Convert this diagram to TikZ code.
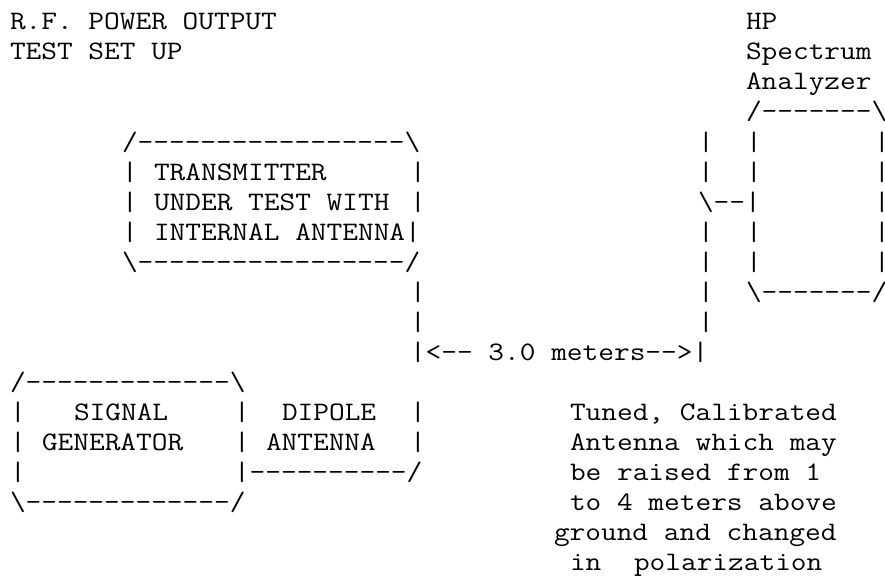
\documentclass[tikz,border=0pt]{standalone}
\usepackage{fontspec}
\usepackage{graphicx}
\newcommand{\seg}[4]{\node[txt] (#1) at ({10pt+16pt*#2}, {-30pt*#3}) {\scalebox{1.14286}[1]{#4}};}
\newcommand{\bs}{\textbackslash}
\begin{document}
\begin{tikzpicture}[x=1pt,y=1pt,
  txt/.style={anchor=base west, inner sep=0pt, outer sep=0pt, text=black,
    font=\fontsize{26.67pt}{30pt}\ttfamily}]
\fill[white] (0,0) rectangle (885,-575);
\useasboundingbox (0,0) rectangle (885,-575);
% row 1-4
\seg{t1}{0}{1}{R.F. POWER OUTPUT}
\seg{hp}{46}{1}{HP}
\seg{t2}{0}{2}{TEST SET UP}
\seg{spec}{46}{2}{Spectrum}
\seg{anal}{46}{3}{Analyzer}
\seg{satop}{46}{4}{/-------\bs}
% row 5
\seg{txtop}{7}{5}{/-----------------\bs}
\seg{ra5}{43}{5}{|}
\seg{sl5}{46}{5}{|}
\seg{sr5}{54}{5}{|}
% row 6
\seg{tl6}{7}{6}{|}
\seg{tx1}{9}{6}{TRANSMITTER}
\seg{tr6}{25}{6}{|}
\seg{ra6}{43}{6}{|}
\seg{sl6}{46}{6}{|}
\seg{sr6}{54}{6}{|}
% row 7
\seg{tl7}{7}{7}{|}
\seg{tx2}{9}{7}{UNDER TEST WITH}
\seg{tr7}{25}{7}{|}
\seg{feed}{43}{7}{\bs--|}
\seg{sr7}{54}{7}{|}
% row 8
\seg{tl8}{7}{8}{|}
\seg{tx3}{9}{8}{INTERNAL ANTENNA|}
\seg{ra8}{43}{8}{|}
\seg{sl8}{46}{8}{|}
\seg{sr8}{54}{8}{|}
% row 9
\seg{txbot}{7}{9}{\bs-----------------/}
\seg{ra9}{43}{9}{|}
\seg{sl9}{46}{9}{|}
\seg{sr9}{54}{9}{|}
% row 10-12
\seg{v10}{25}{10}{|}
\seg{ra10}{43}{10}{|}
\seg{sabot}{46}{10}{\bs-------/}
\seg{v11}{25}{11}{|}
\seg{ra11}{43}{11}{|}
\seg{dist}{25}{12}{|<-- 3.0 meters-->|}
% row 13-17
\seg{sgtop}{0}{13}{/-------------\bs}
\seg{gl14}{0}{14}{|}
\seg{sg1}{4}{14}{SIGNAL}
\seg{gm14}{14}{14}{|}
\seg{dp1}{17}{14}{DIPOLE}
\seg{dr14}{25}{14}{|}
\seg{n1}{35}{14}{Tuned, Calibrated}
\seg{gl15}{0}{15}{|}
\seg{sg2}{2}{15}{GENERATOR}
\seg{gm15}{14}{15}{|}
\seg{dp2}{16}{15}{ANTENNA}
\seg{dr15}{25}{15}{|}
\seg{n2}{35}{15}{Antenna which may}
\seg{gl16}{0}{16}{|}
\seg{dpbot}{14}{16}{|----------/}
\seg{n3}{35}{16}{be raised from 1}
\seg{sgbot}{0}{17}{\bs-------------/}
\seg{n4}{35}{17}{to 4 meters above}
\seg{n5}{34}{18}{ground and changed}
\seg{n6a}{35}{19}{in}
\seg{n6b}{39}{19}{polarization}
\end{tikzpicture}
\end{document}
